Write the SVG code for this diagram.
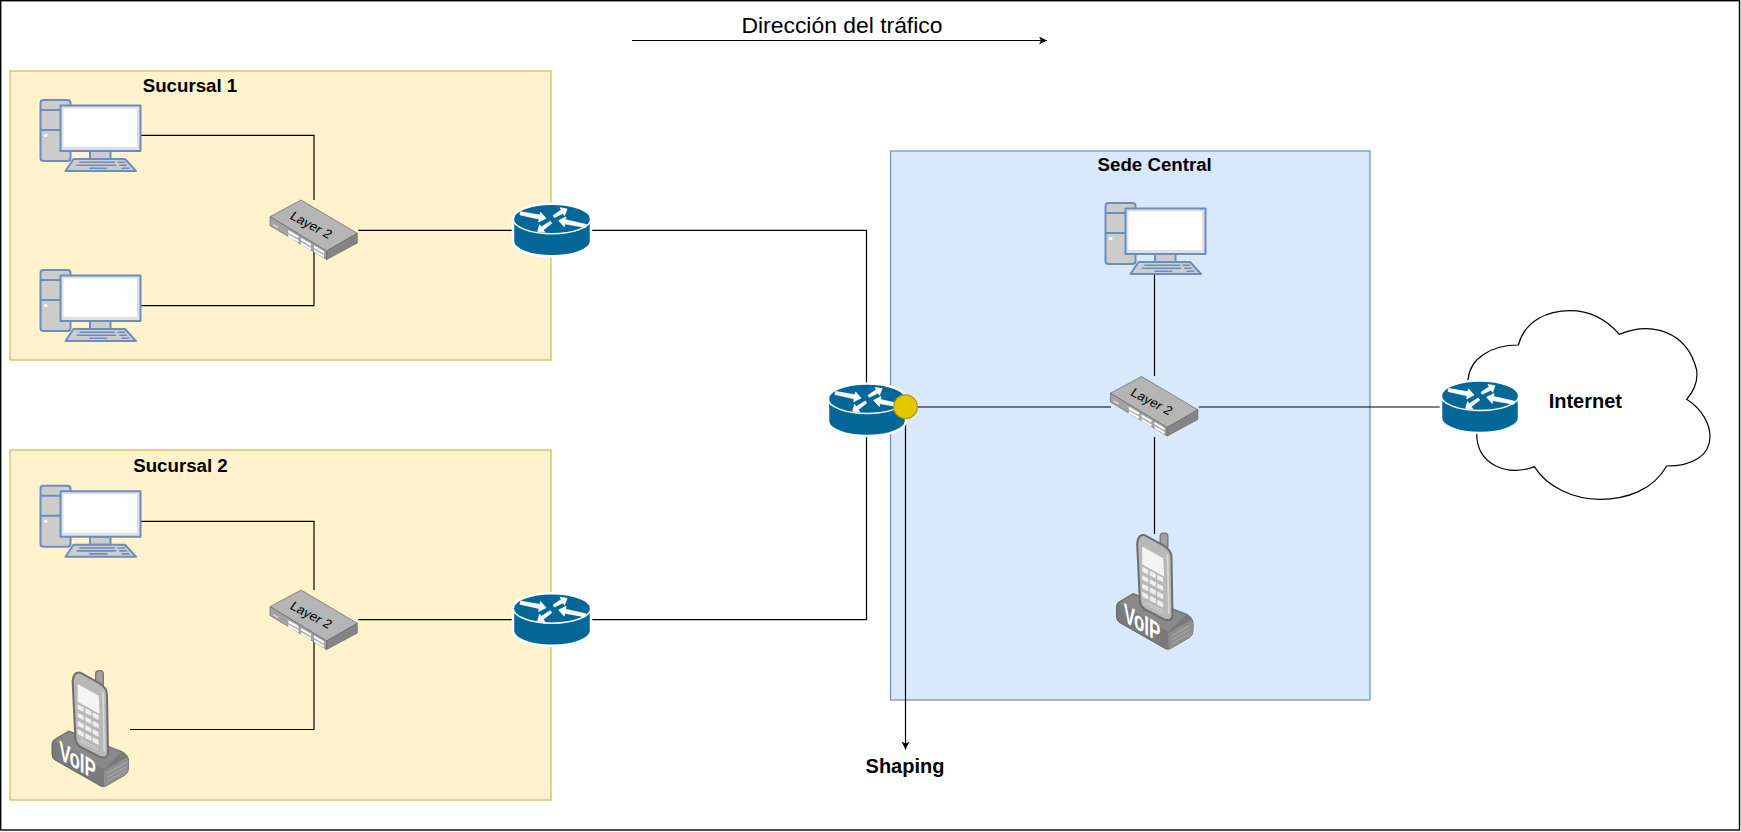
<svg xmlns="http://www.w3.org/2000/svg" xmlns:xlink="http://www.w3.org/1999/xlink" width="1741" height="832" viewBox="0 0 1741 832">
<style>
text{font-family:"Liberation Sans",Arial,sans-serif;fill:#000}
.lbl{font-weight:bold;font-size:18.7px;text-anchor:middle}
.lbl2{font-weight:bold;font-size:20px;text-anchor:middle}
.yel{fill:#fff2cc;stroke:#d6b656;stroke-width:1.2}
.blu{fill:#dae8fc;stroke:#6c8ebf;stroke-width:1.2}
.con{fill:none;stroke:#000;stroke-width:1.2}
.pc{fill:#ccc;stroke:#6c8ebf;stroke-width:2;stroke-linejoin:round}
.key{fill:none;stroke:#6c8ebf;stroke-width:1.6}
.sw{font-size:14px}
.vo{font-size:80px;font-weight:bold;fill:#fff}
</style>
<defs>
<marker id="arr" markerUnits="userSpaceOnUse" markerWidth="10" markerHeight="10" refX="8" refY="4" orient="auto"><path d="M0,0L8,4L0,8L2,4Z" fill="#000"/></marker>
<g id="router">
<path d="M-39,-11.5A39,15 0 0 1 39,-11.5L39,11A39,15 0 0 1 -39,11Z" fill="#036897" stroke="#fff" stroke-width="2.5"/>
<path d="M-39,-11.5A39,15 0 0 0 39,-11.5" fill="none" stroke="#fff" stroke-width="1.5"/>
<g fill="#fff" stroke="#fff" stroke-width=".8" stroke-linejoin="round">
<polygon points="-31.4,-18.5 -12,-15.2 -11.5,-18.1 -6,-12 -13.3,-8.3 -12.8,-11.2 -32,-15.5"/>
<polygon points="6.7,-9.7 14,-13.4 13.5,-10.5 34.3,-5.8 33.7,-2.8 12.7,-6.5 12.2,-3.6"/>
<polygon points="15,-21.3 12.5,-14.7 11.1,-17 2.3,-12.7 1.1,-14.7 9.3,-20.2 8,-22.5"/>
<polygon points="-14.3,1.3 -7.2,1.9 -8.8,-.3 -.3,-7 -1.7,-9 -10.8,-3.3 -12.4,-5.5"/>
</g>
</g>
<g id="pc">
<rect class="pc" x="40.5" y="100" width="30" height="61" rx="3"/>
<path class="pc" d="M40.5,110H60M40.5,130H60" fill="none"/>
<circle cx="45.7" cy="135.5" r="1.8" fill="#fff"/>
<rect class="pc" x="90" y="151" width="20.5" height="8"/>
<rect class="pc" x="60.5" y="105.5" width="80" height="45.5" style="fill:#e0e0e0"/>
<rect x="63.5" y="108.5" width="73.5" height="38.5" fill="#fff"/>
<polygon class="pc" points="73.5,159 125,159 136,171 65.5,171"/>
<path class="key" d="M79.3,162.3H115M117.7,162.3H125M76.7,165.2H116M119.3,165.2H126.7M89.3,168.2H107.3M121.7,168.2H129.3"/>
</g>
<g id="sw">
<polygon points="270,216.7 301,200 357.3,233.3 326.7,251" fill="#b5b5b5" stroke="#666" stroke-width=".7"/>
<polygon points="270,216.7 326.7,251 326.7,259.5 270,225.5" fill="#a3a3a3" stroke="#666" stroke-width=".7"/>
<polygon points="326.7,251 357.3,233.3 357.3,243 326.7,259.5" fill="#858585" stroke="#666" stroke-width=".7"/>
<g fill="#fff">
<polygon points="288.3,230.3 298.5,236 298.5,238.6 288.3,232.9"/>
<polygon points="288.3,234.3 298.5,240 298.5,242.6 288.3,236.9"/>
<polygon points="301,238 311,243.7 311,246.3 301,240.6"/>
<polygon points="301,242 311,247.7 311,250.3 301,244.6"/>
<polygon points="314,245.5 324,251.2 324,253.8 314,248.1"/>
<polygon points="314,249.5 324,255.2 324,257.8 314,252.1"/>
</g>
<polygon points="273,224 278,226.8 278,228.3 273,225.5" fill="#ddd"/>
</g>
<polygon id="kk" points="0,0 18,9 18,23 0,14" fill="#eee"/>
<g id="voip">
<path d="M71,270L116,243L276,305Q296,315 296,335L295,358Q295,368 285,375L228,408Q220,412 212,408L75,330Q66,325 66,312L66,285Q66,275 71,270Z" fill="#7a7a7a" stroke="#666" stroke-width="3"/>
<path d="M222,362L292,322Q296,330 296,340L295,358Q295,368 285,375L228,408Q224,410 222,410Z" fill="#8f8f8f"/>
<path d="M232,370L288,338M232,382L288,350M232,394L288,362" stroke="#aaa" stroke-width="3" fill="none"/>
<path d="M74,272L116,246L274,307L222,358Z" fill="#8a8a8a"/>
<rect x="197" y="62" width="23" height="50" rx="10" fill="#a0a0a0" stroke="#777" stroke-width="4"/>
<path d="M128,95Q130,64 151,68L205,98Q231,112 231,135L234,305Q234,330 208,320L150,290Q136,280 136,262Z" fill="#b8b8b8" stroke="#6e6e6e" stroke-width="6"/>
<path d="M219,125L223,305" stroke="#d8d8d8" stroke-width="5" fill="none"/>
<polygon points="143,102 206,137 209,192 143,155" fill="#f4f4f4"/>
<use xlink:href="#kk" href="#kk" x="143" y="163"/><use xlink:href="#kk" href="#kk" x="166" y="175"/><use xlink:href="#kk" href="#kk" x="188" y="187"/>
<use xlink:href="#kk" href="#kk" x="143" y="188"/><use xlink:href="#kk" href="#kk" x="166" y="200"/><use xlink:href="#kk" href="#kk" x="188" y="212"/>
<use xlink:href="#kk" href="#kk" x="143" y="213"/><use xlink:href="#kk" href="#kk" x="166" y="225"/><use xlink:href="#kk" href="#kk" x="188" y="237"/>
<use xlink:href="#kk" href="#kk" x="143" y="238"/><use xlink:href="#kk" href="#kk" x="166" y="250"/><use xlink:href="#kk" href="#kk" x="188" y="262"/>
<path d="M152,268L204,295M152,274L204,301" stroke="#ddd" stroke-width="3" stroke-dasharray="3 2" fill="none"/>
</g>
</defs>
<rect x="0" y="0" width="1741" height="832" fill="#fff"/>
<rect id="border" x=".7" y=".7" width="1738.8" height="829.3" fill="none" stroke="#000" stroke-width="1.4"/>
<g id="sucursal-1"><rect class="yel" x="10" y="71" width="541" height="289"/><text class="lbl" x="190" y="91.5">Sucursal 1</text></g>
<g id="sucursal-2"><rect class="yel" x="10" y="450" width="541" height="350"/><text class="lbl" x="180.5" y="471.5">Sucursal 2</text></g>
<g id="sede-central"><rect class="blu" x="890.5" y="151" width="479.5" height="549"/><text class="lbl" x="1154.7" y="171">Sede Central</text></g>
<g id="connectors">
<path class="con" d="M141,135.4H314V200"/>
<path class="con" d="M141,305.7H314V250"/>
<path class="con" d="M358.3,230.3H512"/>
<path class="con" d="M141,521.4H314V590"/>
<path class="con" d="M130,729.5H314V640"/>
<path class="con" d="M358.3,619.7H512"/>
<path class="con" d="M592,230.3H866.5V385"/>
<path class="con" d="M592,619.7H866.5V436"/>
<path class="con" d="M905.5,407H1111"/>
<path class="con" d="M1198.8,407H1441"/>
<path class="con" d="M1154.5,274V376"/>
<path class="con" d="M1154.5,437V534"/>
<path class="con" d="M905.5,419V749.5" marker-end="url(#arr)"/>
<path class="con" d="M632,40.5H1047" marker-end="url(#arr)"/>
</g>
<g id="title"><text x="842" y="33" font-size="22.9" text-anchor="middle" fill="#1a1a1a">Dirección del tráfico</text></g>
<g id="pc-1"><use xlink:href="#pc" href="#pc"/></g>
<g id="pc-2"><use xlink:href="#pc" href="#pc" y="170"/></g>
<g id="pc-3"><use xlink:href="#pc" href="#pc" y="385.7"/></g>
<g id="pc-4"><use xlink:href="#pc" href="#pc" x="1065" y="103"/></g>
<g id="switch-1"><use xlink:href="#sw" href="#sw"/><text class="sw" transform="matrix(.84,.443,-.54,.745,289,218.3)">Layer 2</text></g>
<g id="switch-2"><use xlink:href="#sw" href="#sw" y="390"/><text class="sw" transform="matrix(.84,.443,-.54,.745,289,608.3)">Layer 2</text></g>
<g id="switch-3"><use xlink:href="#sw" href="#sw" x="840.5" y="176.5"/><text class="sw" transform="matrix(.84,.443,-.54,.745,1129.5,394.8)">Layer 2</text></g>
<g id="voip-1"><g transform="translate(30,650) scale(.3333)"><use xlink:href="#voip" href="#voip"/><text class="vo" transform="matrix(.64,.385,0,1,88,326)">VoIP</text></g></g>
<g id="voip-2"><g transform="translate(1094.5,512.5) scale(.3333)"><use xlink:href="#voip" href="#voip"/><text class="vo" transform="matrix(.64,.385,0,1,88,326)">VoIP</text></g></g>
<g id="internet"><path transform="translate(1420,300) scale(.3333)" d="M145,235C150,175 215,135 295,135C315,60 385,32 450,32C515,32 565,65 598,103C690,65 800,90 830,210C835,245 820,275 800,298C850,330 870,375 870,410C870,465 820,498 740,498C700,570 620,598 540,598C460,598 380,560 343,500C270,530 170,500 170,400C120,350 130,270 145,235Z" fill="#fff" stroke="#000" stroke-width="3.6"/><text class="lbl2" x="1585.3" y="407.5">Internet</text></g>
<g id="router-1"><use xlink:href="#router" href="#router" x="552" y="230.3"/></g>
<g id="router-2"><use xlink:href="#router" href="#router" x="552" y="619.7"/></g>
<g id="router-3"><use xlink:href="#router" href="#router" x="867" y="410"/></g>
<g id="router-4"><use xlink:href="#router" href="#router" x="1480" y="407"/></g>
<g id="shaper"><circle cx="905.5" cy="406.7" r="11.8" fill="#e3c800" stroke="#b09500" stroke-width="1.2"/></g>
<g id="shaping-label"><text class="lbl2" x="905" y="772.7">Shaping</text></g>
</svg>
